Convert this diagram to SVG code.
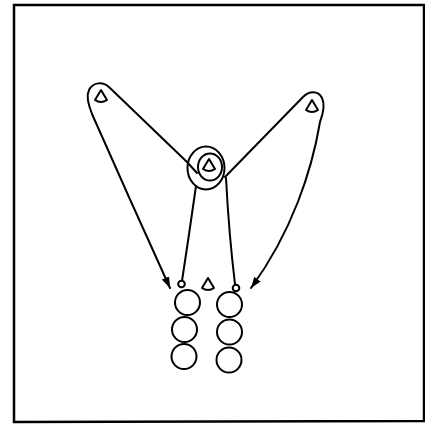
<svg xmlns="http://www.w3.org/2000/svg" width="425" height="427" viewBox="0 0 425 427">
<style>
.ln{fill:none;stroke:#000;stroke-width:2;stroke-linecap:round;stroke-linejoin:round}
.ball{fill:#fff;stroke:#000;stroke-width:2}
.cone{fill:#fff;stroke:#000;stroke-width:2;stroke-linejoin:round}
</style>
<defs>
<path id="cone" d="M0,-6 L-6,4 Q0,8 6,4 Z"/>
<marker id="ah" markerUnits="userSpaceOnUse" markerWidth="11" markerHeight="8" refX="11" refY="4" orient="auto">
<path d="M0,0 L11,4 L0,8 Z" fill="#000"/>
</marker>
</defs>
<rect width="425" height="427" fill="#fff"/>
<g id="frame">
<path d="M14,422 L14,5 L424,5 L424,421 Z" fill="none" stroke="#000" stroke-width="2.5"/>
</g>
<g id="connectors">
<path class="ln" marker-end="url(#ah)" d="M197,173 L187,162 L110,88 C103,81 93,82 89,90 C86,96 88,104 92,114 Q130,200 170,288"/>
<path class="ln" marker-end="url(#ah)" d="M225,177 L303,97 C309,91 318,90 322,98 C325,104 323,114 320,122 C312,170 292,232 251,288"/>
<path class="ln" d="M196,186 Q189,235 182,281"/>
<path class="ln" d="M226,178 Q229,235 235,284"/>
</g>
<g id="center-cone">
<ellipse class="ln" cx="206" cy="168" rx="18.5" ry="21.5"/>
<ellipse class="ln" cx="210" cy="167" rx="12" ry="13.5"/>
<use href="#cone" class="cone" x="209" y="165"/>
</g>
<g id="left-cone"><use href="#cone" class="cone" x="101" y="96"/></g>
<g id="right-cone"><use href="#cone" class="cone" x="312" y="106"/></g>
<g id="bottom-cone"><use href="#cone" class="cone" x="208" y="284"/></g>
<g id="left-marker"><circle class="ball" cx="181.5" cy="284" r="3.3"/></g>
<g id="right-marker"><circle class="ball" cx="236" cy="288" r="3.3"/></g>
<g id="left-balls">
<circle class="ball" cx="187.5" cy="302.5" r="12.5"/>
<circle class="ball" cx="184.5" cy="329.5" r="12.5"/>
<circle class="ball" cx="184" cy="356.5" r="12.5"/>
</g>
<g id="right-balls">
<circle class="ball" cx="229.5" cy="304.5" r="12.5"/>
<circle class="ball" cx="229.5" cy="332" r="12.5"/>
<circle class="ball" cx="229" cy="360" r="12.5"/>
</g>
</svg>
